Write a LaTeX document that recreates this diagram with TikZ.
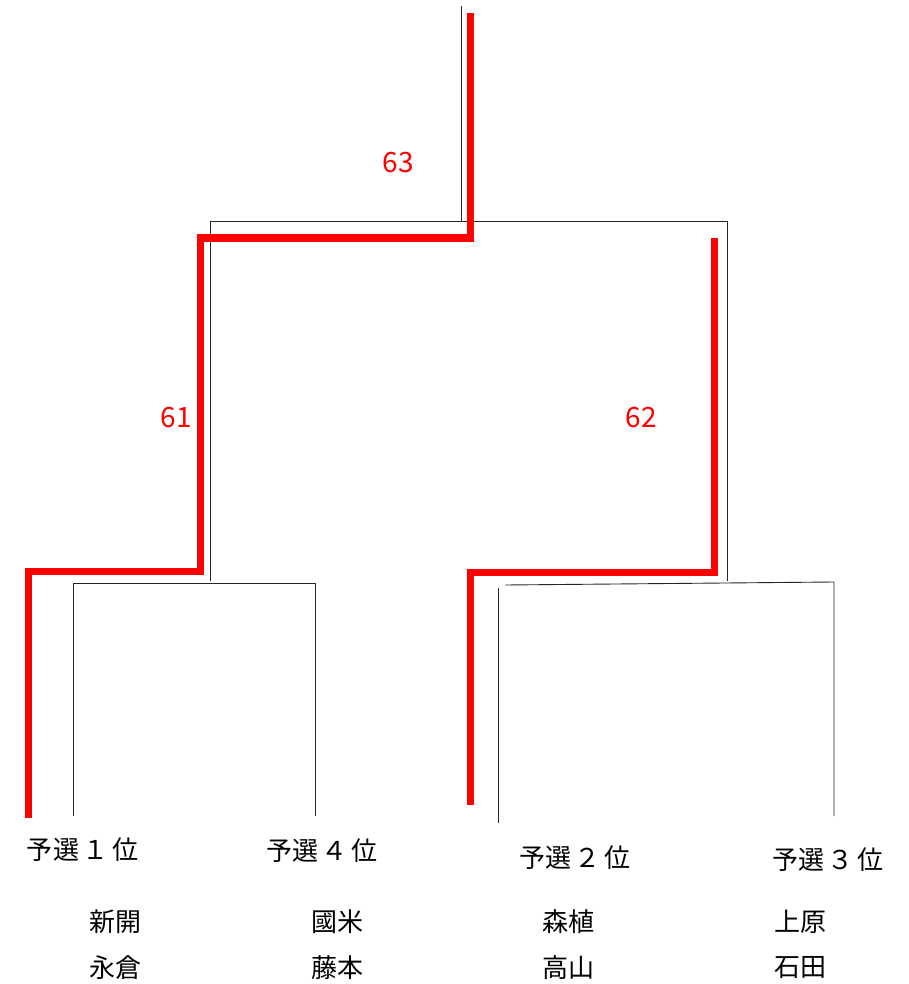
\documentclass[tikz,border=0pt]{standalone}
\usepackage{fontspec}
\setmainfont{Noto Sans CJK JP}
\begin{document}
\begin{tikzpicture}
[x=1pt,y=-1pt,%
  lineDecorate/.style={-,line width=0.9pt,draw=black!85},%
  winDecorate/.style={-,line width=7pt,draw=red,line join=miter},%
  scoreDecorate/.style={text=red,inner sep=0pt,font=\fontsize{28}{32}\selectfont},%
  nameDecorate/.style={inner sep=0pt,font=\fontsize{26}{30}\selectfont}]
\useasboundingbox (0,0) rectangle (909,984);
%% bracket corners
\foreach \name/\x/\y in {
  top/461/6, fin/461/221, finL/210/221, finR/727/221,
  semiL/210/581, semiR/727/581,
  aL/73/583, aR/315/583, aLb/73/816, aRb/315/816,
  bL/505/585, bR/834/582, bLt/498/588, bLb/498/823, bRb/834/816}
  \coordinate (\name) at (\x,\y);
%% black bracket
\draw[lineDecorate] (top) -- (fin);
\draw[lineDecorate] (semiL) -- (finL) -- (finR) -- (semiR);
\draw[lineDecorate] (aLb) -- (aL) -- (aR) -- (aRb);
\draw[lineDecorate] (bL) -- (bR) -- (bRb);
\draw[lineDecorate] (bLt) -- (bLb);
%% red winning paths
\foreach \name/\x/\y in {
  w1/28/818, w2/28/571, w3/200/571, w4/200/238, w5/470/238, w6/470/13,
  v1/714/238, v2/714/572, v3/470/572, v4/470/805}
  \coordinate (\name) at (\x,\y);
\draw[winDecorate] (w1) -- (w2) -- (w3) -- (w4) -- (w5) -- (w6);
\draw[winDecorate] (v1) -- (v2) -- (v3) -- (v4);
%% scores
\foreach \nodename/\x/\y/\score in {s63/398/163/63, s61/176/418/61, s62/641/418/62}
  \node[scoreDecorate] (\nodename) at (\x,\y) {\score};
%% seeds and players
\foreach \nodename/\x/\y/\seed/\nx/\first/\second in {
  p1/83/850/１/115/新開/永倉, p4/322/851/４/337/國米/藤本,
  p2/575/858/２/568/森植/高山, p3/828/860/３/800/上原/石田}
{
  \node[nameDecorate] (\nodename) at (\x,\y) {予選\kern4pt\seed\kern4pt 位};
  \node[nameDecorate] (\nodename a) at (\nx,922) {\first};
  \node[nameDecorate] (\nodename b) at (\nx,968) {\second};
}
\end{tikzpicture}
\end{document}
